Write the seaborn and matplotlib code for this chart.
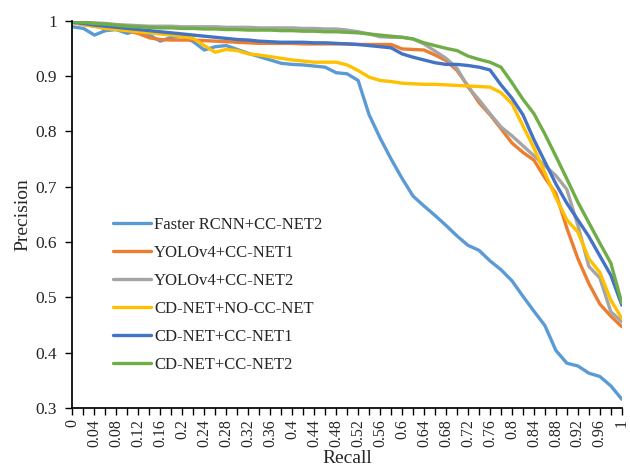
import matplotlib
matplotlib.use("Agg")
import matplotlib.pyplot as plt
import seaborn as sns
import pandas as pd
import numpy as np

# recall points 0, 0.02, ... 1 (51 categories)
recall = [round(i * 0.02, 2) for i in range(51)]

series_names = ["Faster RCNN+CC-NET2", "YOLOv4+CC-NET1", "YOLOv4+CC-NET2",
                "CD-NET+NO-CC-NET", "CD-NET+CC-NET1", "CD-NET+CC-NET2"]
series_colors = ["#5B9BD5", "#ED7D31", "#A5A5A5", "#FFC000", "#4472C4", "#70AD47"]

faster_rcnn_cc2 = [0.989, 0.986, 0.974, 0.982, 0.984, 0.977, 0.984, 0.974, 0.963, 0.970,
                   0.972, 0.962, 0.947, 0.953, 0.955, 0.948, 0.941, 0.935, 0.929, 0.923,
                   0.921, 0.920, 0.918, 0.916, 0.906, 0.904, 0.892, 0.830, 0.788, 0.750,
                   0.715, 0.683, 0.665, 0.648, 0.630, 0.611, 0.594, 0.585, 0.566, 0.550,
                   0.530, 0.502, 0.475, 0.449, 0.404, 0.381, 0.376, 0.363, 0.357, 0.340,
                   0.316]
yolo_cc1 = [0.997, 0.993, 0.990, 0.986, 0.984, 0.982, 0.977, 0.969, 0.966, 0.965,
            0.965, 0.965, 0.964, 0.963, 0.962, 0.961, 0.960, 0.959, 0.959, 0.959,
            0.959, 0.958, 0.958, 0.958, 0.958, 0.958, 0.957, 0.957, 0.957, 0.957,
            0.949, 0.948, 0.947, 0.938, 0.928, 0.910, 0.882, 0.852, 0.830, 0.805,
            0.779, 0.762, 0.748, 0.716, 0.688, 0.625, 0.570, 0.525, 0.488, 0.466,
            0.447]
yolo_cc2 = [0.998, 0.997, 0.996, 0.995, 0.993, 0.992, 0.991, 0.990, 0.990, 0.990,
            0.989, 0.989, 0.989, 0.989, 0.988, 0.988, 0.988, 0.987, 0.987, 0.987,
            0.987, 0.986, 0.986, 0.985, 0.985, 0.983, 0.980, 0.976, 0.971, 0.970,
            0.970, 0.967, 0.958, 0.945, 0.932, 0.914, 0.880, 0.857, 0.832, 0.808,
            0.792, 0.774, 0.756, 0.738, 0.720, 0.695, 0.630, 0.556, 0.535, 0.474,
            0.456]
cdnet_no_cc = [0.997, 0.993, 0.990, 0.986, 0.984, 0.982, 0.980, 0.978, 0.976, 0.974,
               0.971, 0.968, 0.955, 0.943, 0.948, 0.946, 0.940, 0.938, 0.935, 0.932,
               0.929, 0.927, 0.925, 0.925, 0.925, 0.920, 0.910, 0.898, 0.892, 0.890,
               0.887, 0.886, 0.885, 0.885, 0.884, 0.883, 0.882, 0.881, 0.880, 0.870,
               0.850, 0.810, 0.770, 0.725, 0.680, 0.640, 0.618, 0.570, 0.545, 0.495,
               0.462]
cdnet_cc1 = [0.997, 0.995, 0.992, 0.990, 0.988, 0.986, 0.984, 0.982, 0.980, 0.978,
             0.976, 0.974, 0.972, 0.970, 0.968, 0.966, 0.965, 0.963, 0.962, 0.961,
             0.961, 0.961, 0.960, 0.960, 0.959, 0.958, 0.957, 0.955, 0.953, 0.951,
             0.940, 0.934, 0.929, 0.924, 0.921, 0.921, 0.919, 0.916, 0.911, 0.884,
             0.860, 0.830, 0.785, 0.745, 0.705, 0.670, 0.640, 0.610, 0.575, 0.540,
             0.486]
cdnet_cc2 = [0.998, 0.997, 0.995, 0.994, 0.992, 0.990, 0.989, 0.988, 0.987, 0.987,
             0.986, 0.986, 0.985, 0.985, 0.984, 0.984, 0.983, 0.983, 0.983, 0.982,
             0.982, 0.981, 0.981, 0.980, 0.980, 0.979, 0.978, 0.976, 0.974, 0.972,
             0.970, 0.967, 0.960, 0.955, 0.950, 0.946, 0.936, 0.930, 0.925, 0.916,
             0.888, 0.858, 0.832, 0.795, 0.755, 0.714, 0.672, 0.635, 0.598, 0.562,
             0.490]

x_tick_labels = ["0" if i == 0 else ("1" if i == 25 else "%g" % (i * 0.04)) for i in range(26)]
y_ticks = [0.3, 0.4, 0.5, 0.6, 0.7, 0.8, 0.9, 1.0]
y_tick_labels = ["0.3", "0.4", "0.5", "0.6", "0.7", "0.8", "0.9", "1"]

# long table for seaborn
wide = pd.DataFrame({"Recall": recall,
                     series_names[0]: faster_rcnn_cc2,
                     series_names[1]: yolo_cc1,
                     series_names[2]: yolo_cc2,
                     series_names[3]: cdnet_no_cc,
                     series_names[4]: cdnet_cc1,
                     series_names[5]: cdnet_cc2})
df = wide.melt(id_vars="Recall", var_name="Model", value_name="Precision")

sns.set_theme(style="ticks")
plt.rcParams["font.family"] = ["Liberation Serif", "DejaVu Serif"]

fig = plt.figure(figsize=(6.3, 4.67), dpi=100)
ax = fig.add_axes([0.115, 0.1263, 0.872, 0.8294])

sns.lineplot(data=df, x="Recall", y="Precision", hue="Model",
             hue_order=series_names, palette=series_colors,
             linewidth=2.4, ax=ax)

ax.set_xlim(0, 1)
ax.set_ylim(0.3, 1.0)
ax.set_xticks(np.linspace(0, 1, 26))
ax.set_xticklabels(x_tick_labels, rotation=90, fontsize=11.5)
ax.set_xticks(np.linspace(0, 1, 51), minor=True)
ax.set_yticks(y_ticks)
ax.set_yticklabels(y_tick_labels, fontsize=12.5)
ax.tick_params(axis="both", which="both", direction="out", color="black", width=1)
ax.tick_params(axis="x", which="both", length=5, pad=3)
ax.tick_params(axis="y", length=5, pad=6)

ax.spines["top"].set_visible(False)
ax.spines["right"].set_visible(False)
ax.spines["left"].set_color("black")
ax.spines["bottom"].set_color("black")

ax.set_xlabel("Recall", fontsize=14, labelpad=2)
ax.set_ylabel("Precision", fontsize=14, labelpad=3)

ax.legend(loc="upper left", bbox_to_anchor=(0.061, 0.511), frameon=False,
          fontsize=12, handlelength=2.3, handletextpad=0.2, labelspacing=0.72,
          borderaxespad=0)

fig.savefig("out.png", dpi=100)
